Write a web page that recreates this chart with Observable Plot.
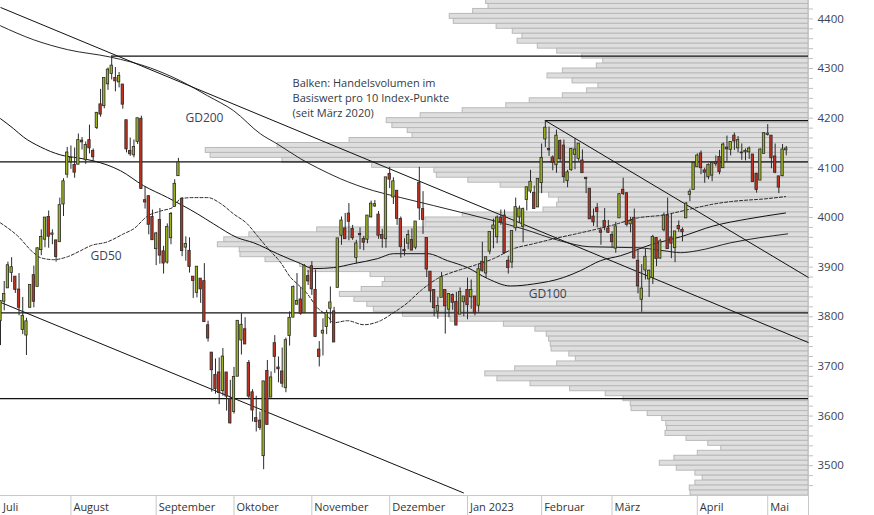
<!DOCTYPE html>
<html><head><meta charset="utf-8">
<script src="https://cdn.jsdelivr.net/npm/d3@7"></script>
<script src="https://cdn.jsdelivr.net/npm/@observablehq/plot@0.6"></script>
<style>
html,body{margin:0;padding:0;background:#fff;}
#chart{position:relative;width:874px;height:515px;overflow:hidden;background:#fff;}
#chart svg{position:absolute;left:0;top:0;}
</style></head><body><div id="chart"></div>
<script>
// ---- candle data (S&P 500, 5 Jul 2022 – 8 May 2023) ----
const opens = [
3792,3831,3858,3889,3880,3854,3774,3763,3819,3883,3861,3935,3956,4000,3966,3953,3951,4027,4087,
4112,4105,4107,4154,4116,4155,4133,4181,4227,4225,4269,4290,4280,4273,4267,4195,4133,4126,4153,4198,4034,4042,4000,
3937,3994,3931,3910,3959,4022,4084,4037,3940,3932,3880,3849,3876,3871,3782,3727,3682,3687,3651,3687,3633,
3609,3680,3753,3774,3706,3647,3595,3590,3520,3690,3638,3746,3697,3689,3657,3762,3799,3825,3834,3808,3881,
3901,3853,3733,3767,3780,3817,3810,3859,3964,3977,4007,3976,3919,3966,3956,3956,4001,4023,4005,3964,3957,
4087,4041,4053,3996,3934,3948,3954,3940,4069,4016,3958,3890,3853,3811,3839,3853,3815,3843,3829,3805,3830,
3853,3840,3840,3823,3910,3888,3932,3977,3961,3999,4003,3912,3910,3979,4001,3982,4036,4053,4049,4021,
4070,4158,4137,4120,4106,4153,4144,4074,4096,4127,4119,4114,4078,4057,4001,4018,3973,3992,3977,
3964,3938,3999,4055,4048,3987,3998,3912,3835,3894,3876,3879,3958,3918,3975,4003,3959,3939,3982,3974,3999,4046,4056,
4102,4128,4094,4082,4085,4111,4121,4100,4140,4137,4164,4140,4130,4132,4132,4126,4087,4075,4129,
4167,4164,4122,4082,4084,4136];
const highs = [
3832,3871,3910,3919,3880,3887,3839,3797,3863,3902,3939,3975,3999,4013,3975,3954,4039,4078,4141,
4144,4140,4168,4161,4152,4186,4138,4211,4258,4280,4301,4325,4302,4292,4267,4196,4160,4156,4200,4204,4062,4044,4015,
3970,4018,3942,3987,4010,4076,4119,4040,3961,3959,3880,3900,3876,3907,3791,3727,3715,3717,3736,3687,3672,
3698,3791,3806,3798,3712,3653,3640,3608,3670,3712,3689,3762,3719,3737,3757,3810,3862,3887,3859,3905,3893,
3911,3894,3750,3796,3813,3860,3819,3958,4001,4008,4028,3984,3954,3979,3962,4004,4033,4034,4012,3976,4080,
4101,4080,4053,4001,3957,3974,3977,3991,4101,4052,3959,3890,3854,3839,3889,3853,3845,3846,3849,3858,3839,
3878,3874,3840,3906,3950,3920,3970,3997,4003,4015,4015,3922,3972,4039,4023,4019,4061,4095,4063,4077,
4148,4195,4182,4124,4176,4156,4156,4095,4139,4159,4148,4136,4081,4057,4017,4028,3979,4018,3994,
3971,3990,4048,4079,4050,4000,4017,3934,3905,3937,3894,3964,3959,3956,4009,4039,4007,3972,3993,3979,4030,4057,4110,
4128,4134,4099,4108,4110,4124,4135,4150,4164,4152,4170,4163,4148,4138,4142,4127,4089,4138,4170,
4187,4165,4148,4082,4147,4143];
const lows = [
3742,3812,3858,3869,3847,3802,3764,3722,3817,3818,3861,3923,3939,3938,3945,3910,3951,4002,4079,
4097,4079,4107,4136,4107,4128,4112,4177,4202,4219,4256,4277,4253,4261,4218,4130,4123,4120,4147,4057,4017,3965,3954,
3903,3906,3886,3906,3945,4022,4083,3921,3912,3888,3837,3838,3827,3789,3749,3648,3644,3623,3640,3610,3584,
3604,3680,3723,3745,3633,3588,3568,3571,3492,3584,3638,3686,3667,3657,3647,3741,3799,3825,3803,3808,3863,
3843,3758,3699,3721,3764,3786,3749,3859,3944,3957,3953,3954,3907,3935,3933,3947,3999,4020,3956,3938,3938,
4058,4026,3984,3918,3922,3935,3933,3935,3994,3966,3879,3828,3800,3795,3839,3765,3798,3813,3783,3805,3800,
3794,3815,3802,3809,3890,3877,3925,3937,3947,3984,3926,3886,3897,3972,3990,3949,4013,4048,4017,4021,
4048,4141,4123,4094,4089,4111,4069,4060,4093,4096,4113,4091,4048,3996,3982,3979,3944,3973,3968,
3939,3928,3999,4044,3981,3969,3918,3846,3809,3874,3839,3865,3901,3916,3971,3937,3917,3909,3970,3951,3999,4032,4056,
4101,4086,4069,4076,4072,4102,4086,4100,4113,4124,4135,4130,4115,4114,4117,4071,4049,4075,4128,
4164,4098,4088,4048,4082,4124];
const closes = [
3831,3845,3903,3899,3855,3819,3801,3790,3863,3831,3937,3960,3999,3962,3967,3921,4024,4072,4130,
4119,4091,4155,4152,4145,4140,4122,4210,4208,4280,4297,4305,4275,4284,4228,4138,4128,4141,4199,4058,4031,3986,3955,
3967,3924,3908,3980,4006,4067,4110,3933,3946,3901,3873,3900,3856,3790,3757,3693,3655,3647,3719,3640,3586,
3678,3791,3783,3745,3640,3612,3589,3577,3669,3583,3677,3720,3695,3666,3752,3797,3859,3831,3807,3901,3872,
3856,3760,3720,3771,3807,3828,3749,3957,3993,3957,3992,3959,3947,3965,3950,4003,4027,4026,3964,3958,4080,
4077,4072,3998,3941,3933,3964,3934,3991,4019,3996,3896,3852,3818,3821,3879,3822,3845,3829,3783,3849,3840,
3824,3853,3808,3895,3893,3919,3970,3983,3999,3991,3929,3899,3972,4020,4017,4016,4060,4071,4018,4077,
4119,4180,4136,4111,4164,4118,4082,4090,4137,4136,4148,4090,4079,3997,3991,4012,3970,3982,3970,
3951,3981,4046,4048,3986,3992,3918,3862,3856,3920,3892,3960,3917,3951,4003,3937,3948,3971,3977,3971,4027,4051,4109,
4124,4100,4091,4105,4109,4108,4092,4146,4138,4151,4154,4155,4130,4133,4138,4072,4056,4136,4169,
4168,4120,4091,4061,4136,4138];

// trading calendar
const firstDay = "2022-07-05";
const holidays = ["2022-09-05","2022-11-24","2022-12-26","2023-01-02","2023-01-16","2023-02-20","2023-04-07"];
const monthNames = ["Juli","August","September","Oktober","November","Dezember","Jan 2023","Februar","März","April","Mai"];

// moving averages [trading-day index, value]
const gd200 = [[0,4386],[8.9,4358],[18.1,4338],[29.7,4323],[40.5,4301],[48.6,4275],[55.9,4245],[62.9,4215],[70.2,4168],[74.7,4148],[81,4118],[85.5,4100],[91.7,4078],[100.6,4054],[108,4040],[116.8,4024],[126,4007],[141,3977],[151,3953],[159,3941],[172,3939],[179,3933],[183.5,3929],[188,3933],[197,3949],[212.4,3967]];
const gd100 = [[0,4199],[3.5,4179],[6.2,4162],[10.8,4142],[16.2,4126],[20.8,4120],[25.1,4114],[32.4,4094],[38.6,4064],[45.1,4040],[53.2,4007],[57.5,3987],[64,3959],[68.3,3949],[74.7,3927],[81,3907],[84.5,3897],[89.9,3899],[95.3,3907],[101.7,3917],[106,3927],[115.2,3927],[120.6,3913],[126,3899],[131.4,3877],[137.6,3862],[143.8,3866],[151.9,3879],[156.5,3893],[161.9,3913],[167.3,3923],[175.4,3945],[183.5,3961],[192.4,3983],[201.6,3997],[211.8,4009]];
const gd50 = [[0,3989],[4.6,3963],[8.9,3929],[10.8,3919],[14.3,3915],[18.1,3921],[21.6,3933],[24.3,3943],[28.9,3951],[33.2,3967],[35.9,3977],[39.7,4003],[43.2,4013],[46.7,4021],[48.6,4038],[52.1,4040],[55.9,4040],[59.4,4028],[62.9,4007],[66.6,3987],[69.3,3963],[72,3939],[75.6,3909],[78.3,3879],[80.1,3866],[82.8,3846],[85.5,3818],[88.2,3802],[89.9,3788],[93.6,3792],[98,3784],[102.5,3792],[106,3808],[109.8,3828],[113.3,3852],[117.9,3877],[123.3,3893],[127.6,3903],[133,3917],[138.4,3937],[143.8,3947],[149.2,3957],[156.5,3969],[165.4,3985],[171.9,3999],[178.9,4005],[186.2,4017],[192.4,4027],[197,4032],[207,4038],[211.8,4042]];

// horizontal support/resistance lines: [value, start index]
const levels = [[4325,30],[4195,147],[4112,0],[3808,0],[3635,0]];
// trend lines: [x1, y1, x2, y2]
const trends = [[0,4423,218,3748],[0,3829,125,3445],[147,4195,218,3879]];

// volume profile: bins of 10 index points, relative volume
const volBins = [4430,4420,4410,4400,4390,4380,4370,4360,4350,4340,4330,4320,4310,4300,4290,4280,4270,4260,4250,4240,4230,4220,4210,4200,4190,4180,4170,4160,4150,4140,4130,4120,4110,4100,4090,4080,4070,4060,4050,4040,4030,4020,4010,4000,3990,3980,3970,3960,3950,3940,3930,3920,3910,3900,3890,3880,3870,3860,3850,3840,3830,3820,3810,3800,3790,3780,3770,3760,3750,3740,3730,3720,3710,3700,3690,3680,3670,3660,3650,3640,3630,3620,3610,3600,3590,3580,3570,3560,3550,3540,3530,3520,3510,3500,3490,3480,3470,3460,3450,3440];
const volValues = [39.9,39.6,41.5,44.4,43.9,38.6,36.6,35.4,36.0,33.5,31.1,28.0,25.4,26.2,30.4,32.3,29.2,26.0,27.4,30.4,34.5,37.4,42.8,48.0,52.2,51.5,49.6,49.0,56.8,65.7,74.6,74.0,65.1,54.0,46.3,46.0,42.1,38.1,33.5,32.1,30.9,31.1,32.8,42.8,47.4,47.4,60.8,69.2,72.3,73.1,70.4,70.3,67.2,62.9,62.0,54.2,52.4,52.7,55.3,58.0,56.2,54.6,53.8,50.2,44.3,37.7,33.8,32.4,32.1,31.9,31.8,29.6,28.8,31.1,36.3,40.0,38.5,34.4,29.5,25.1,22.9,22.0,21.9,19.9,18.1,17.6,17.5,17.7,15.1,12.4,10.8,13.7,16.6,18.4,16.3,14.0,13.1,14.0,14.7,14.6];

const yTickLabels = [3500,3600,3700,3800,3900,4000,4100,4200,4300,4400];
const noteLines = ["Balken: Handelsvolumen im", "Basiswert pro 10 Index-Punkte", "(seit März 2020)"];

// ---- build tables ----
const hol = new Set(holidays);
const dates = [];
{
  let d = new Date(firstDay + "T00:00:00Z");
  while (dates.length < opens.length) {
    const s = d.toISOString().slice(0,10);
    const wd = d.getUTCDay();
    if (wd !== 0 && wd !== 6 && !hol.has(s)) dates.push(s);
    d = new Date(d.getTime() + 86400000);
  }
}
const candles = opens.map((o,i) => ({i, date: dates[i], o, h: highs[i], l: lows[i], c: closes[i]}));
const monthStarts = [];
dates.forEach((s,i) => { const m = s.slice(0,7); if (!monthStarts.length || monthStarts[monthStarts.length-1].m !== m) monthStarts.push({m, i}); });
monthStarts.forEach((d,k) => d.label = monthNames[k]);
const vol = volBins.map((b,k) => ({b, v: volValues[k]}));
const toPts = a => a.map(([i,v]) => ({i, v}));
const minorTicks = d3.range(3460, 4437, 20);

const W = 874, H = 515, mL = 0, mR = 66, mT = 0, mB = 20;
const X = [0, 218], Y = [3440, 4437];
const font = "'Open Sans', 'Noto Sans', sans-serif";
const txt = "#3b4456";

const volPlot = Plot.plot({
  width: W, height: H, marginLeft: mL, marginRight: mR, marginTop: mT, marginBottom: mB,
  x: {domain: [100, 0], axis: null},
  y: {domain: Y, axis: null},
  style: {background: "transparent"},
  marks: [
    Plot.rect(vol, {x1: 0, x2: "v", y1: "b", y2: d => d.b + 10, fill: "#dedede", stroke: "#b9b9b9", strokeWidth: 1, clip: true})
  ]
});

const up = "#9db31e", down = "#c0321f", edge = "#2a2a2a";
const mainPlot = Plot.plot({
  width: W, height: H, marginLeft: mL, marginRight: mR, marginTop: mT, marginBottom: mB,
  x: {domain: X, axis: null},
  y: {domain: Y, axis: null},
  style: {background: "transparent", fontFamily: font, overflow: "visible"},
  marks: [
    // frame
    Plot.ruleY([Y[0]], {stroke: "#c8c8c8", strokeWidth: 1}),
    Plot.ruleX([X[1]], {y1: Y[1], y2: 3399.7, stroke: "#c8c8c8", strokeWidth: 1}),
    Plot.ruleX(monthStarts.slice(1), {x: "i", y1: Y[0], y2: 3399.7, stroke: "#c8c8c8", strokeWidth: 1}),
    Plot.text(monthStarts, {x: "i", y: Y[0], text: "label", dy: 12, dx: 2.5, textAnchor: "start", fontSize: 11, fill: "#333"}),
    // right axis
    Plot.ruleY(minorTicks, {y: d => d, x1: X[1], x2: X[1] + 5/3.706, stroke: "#c0c0c0"}),
    Plot.text(yTickLabels, {x: X[1], y: d => d, text: d => String(d), dx: 9, textAnchor: "start", fontSize: 11.5, fill: txt}),
    // levels and trends
    Plot.ruleY(levels, {y: d => d[0], x1: d => d[1], x2: X[1], stroke: "#111", strokeWidth: 1.2}),
    Plot.link(trends, {x1: d => d[0], y1: d => d[1], x2: d => d[2], y2: d => d[3], stroke: "#111", strokeWidth: 1}),
    // moving averages
    Plot.line(toPts(gd200), {x: "i", y: "v", stroke: "#111", strokeWidth: 0.9, curve: "monotone-x"}),
    Plot.line(toPts(gd100), {x: "i", y: "v", stroke: "#111", strokeWidth: 1, curve: "monotone-x"}),
    Plot.line(toPts(gd50), {x: "i", y: "v", stroke: "#111", strokeWidth: 0.9, strokeDasharray: "3,2", curve: "monotone-x"}),
    // candles
    Plot.ruleX(candles, {x: "i", y1: "l", y2: "h", stroke: edge, strokeWidth: 1}),
    Plot.rect(candles, {x1: d => d.i - 0.32, x2: d => d.i + 0.32, y1: "o", y2: "c", fill: d => d.c >= d.o ? up : down, stroke: edge, strokeWidth: 0.8, insetTop: -0.4, insetBottom: -0.4}),
    // labels
    Plot.text(["GD200"], {x: 49.9, y: 4201, text: d => d, textAnchor: "start", fontSize: 12, fill: txt}),
    Plot.text(["GD50"], {x: 24.3, y: 3923, text: d => d, textAnchor: "start", fontSize: 12, fill: txt}),
    Plot.text(["GD100"], {x: 142.5, y: 3846, text: d => d, textAnchor: "start", fontSize: 12, fill: txt}),
    Plot.text(noteLines, {x: 78.8, y: (d, k) => 4269 - k * 29.5, text: d => d, textAnchor: "start", fontSize: 11, fill: "#333a45"})
  ]
});

const el = document.getElementById("chart");
el.appendChild(volPlot);
el.appendChild(mainPlot);
</script></body></html>
